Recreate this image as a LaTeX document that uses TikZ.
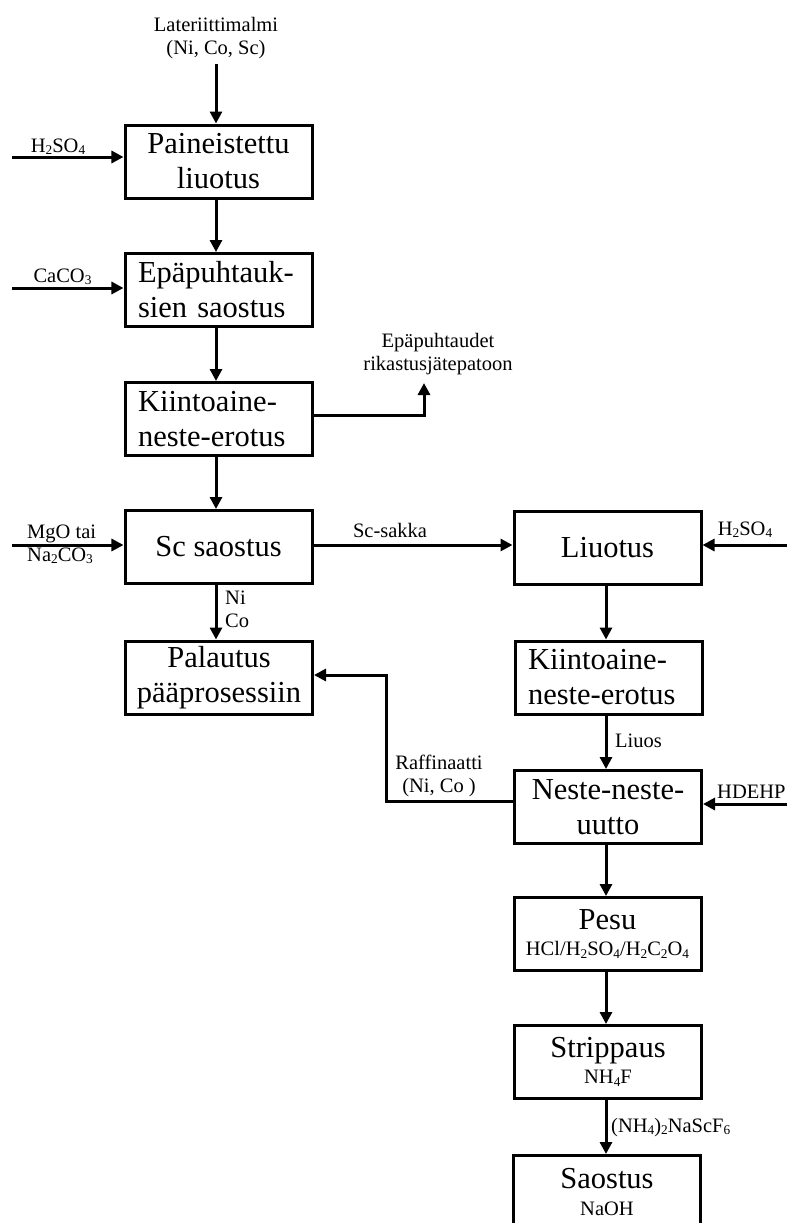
\documentclass[tikz,border=0pt]{standalone}
\usepackage{fontspec}
\setmainfont{Liberation Serif}
\usepackage{graphicx}
\usetikzlibrary{arrows.meta}
% small lowered index digits for chemical formulas
\newcommand{\chs}[1]{\raisebox{-0.3ex}{\scalebox{0.65}{#1}}}
\begin{document}
\begin{tikzpicture}[x=1bp,y=-1bp,
  box/.style={draw, line width=3bp, minimum width=187bp, minimum height=73bp,
    inner sep=0pt, align=center, font=\fontsize{30.5bp}{35bp}\selectfont},
  lbox/.style={box, text width=161bp, align=left},
  subbox/.style={box, font=\fontsize{30.5bp}{26.5bp}\selectfont},
  lab/.style={inner sep=0pt, font=\fontsize{20.5bp}{22.5bp}\selectfont, anchor=base},
  flow/.style={line width=3bp, -{Triangle[length=12bp,width=12bp]}}]
\useasboundingbox (0,0) rectangle (787,1223);

% process steps
\node[box]  (pl)  at (218.5,161.5) {Paineistettu\\liuotus};
\node[lbox] (ep)  at (218.5,290)   {Epäpuhtauk-\\sien saostus};
\node[lbox] (ke1) at (218.5,419)   {Kiintoaine-\\neste-erotus};
\node[box]  (sc)  at (218.5,547)   {Sc saostus};
\node[box]  (pa)  at (219,677.5)   {Palautus\\pääprosessiin};
\node[box]  (li)  at (607.5,548)   {Liuotus};
\node[lbox] (ke2) at (608.5,677.5) {Kiintoaine-\\neste-erotus};
\node[box]  (nn)  at (608,807)     {Neste-neste-\\uutto};
\node[subbox] (pe) at (607.5,934)
  {Pesu\\{\fontsize{20.5bp}{26.5bp}\selectfont HCl/H\chs{2}SO\chs{4}/H\chs{2}C\chs{2}O\chs{4}}};
\node[subbox] (st) at (608,1062)
  {Strippaus\\{\fontsize{20.5bp}{26.5bp}\selectfont NH\chs{4}F}};
\node[subbox] (sa) at (607,1192)
  {Saostus\\{\fontsize{20.5bp}{26.5bp}\selectfont NaOH}};

% stream labels (base = baseline of the last line)
\node[lab, align=center] (ore) at (216,54) {Lateriittimalmi\\(Ni, Co, Sc)};
\node[lab] (acid1) at (58,152) {H\chs{2}SO\chs{4}};
\node[lab] (caco) at (62.5,282) {CaCO\chs{3}};
\node[lab, align=center] (impl) at (438,370) {Epäpuhtaudet\\rikastusjätepatoon};
\node[lab, anchor=base west, align=left] (mgo) at (27,561) {MgO tai\\Na\chs{2}CO\chs{3}};
\node[lab, anchor=base west, align=left] (nico) at (225,627) {Ni\\Co};
\node[lab] (scs) at (390,537) {Sc-sakka};
\node[lab] (acid2) at (745,535) {H\chs{2}SO\chs{4}};
\node[lab, anchor=base west] (liuos) at (615,747) {Liuos};
\node[lab, align=center] (raf) at (439,792) {Raffinaatti\\(Ni, Co )};
\node[lab, anchor=base west] (hdehp) at (717,798) {HDEHP};
\node[lab, anchor=base west] (nasc) at (611,1132) {(NH\chs{4})\chs{2}NaScF\chs{6}};

% guide coordinates
\coordinate (lx) at (216,0);
\coordinate (rx) at (606,0);
\coordinate (in1) at (12,157);
\coordinate (in2) at (12,288);
\coordinate (in3) at (12,545);
\coordinate (in4) at (787,545);
\coordinate (in5) at (787,804);
\coordinate (imp) at (424,383);
\coordinate (rj) at (386,675);
\coordinate (ot) at (216,64);

% main line, left column
\draw[flow] (ot) -- (pl.north -| lx);
\draw[flow] (in1) -- (in1 -| pl.west);
\draw[flow] (pl.south -| lx) -- (ep.north -| lx);
\draw[flow] (in2) -- (in2 -| ep.west);
\draw[flow] (ep.south -| lx) -- (ke1.north -| lx);
\draw[flow] ([yshift=4bp]ke1.east) -| (imp);
\draw[flow] (ke1.south -| lx) -- (sc.north -| lx);
\draw[flow] (in3) -- (in3 -| sc.west);
\draw[flow] (sc.south -| lx) -- (pa.north -| lx);

% scandium line, right column
\draw[flow] ([yshift=2bp]sc.east) -- ([yshift=2bp]sc.east -| li.west);
\draw[flow] (in4) -- (in4 -| li.east);
\draw[flow] (li.south -| rx) -- (ke2.north -| rx);
\draw[flow] (ke2.south -| rx) -- (nn.north -| rx);
\draw[flow] (in5) -- (in5 -| nn.east);
\draw[flow] ([yshift=6bp]nn.west) -| (rj) -- (rj -| pa.east);
\draw[flow] (nn.south -| rx) -- (pe.north -| rx);
\draw[flow] (pe.south -| rx) -- (st.north -| rx);
\draw[flow] (st.south -| rx) -- (sa.north -| rx);
\end{tikzpicture}
\end{document}
